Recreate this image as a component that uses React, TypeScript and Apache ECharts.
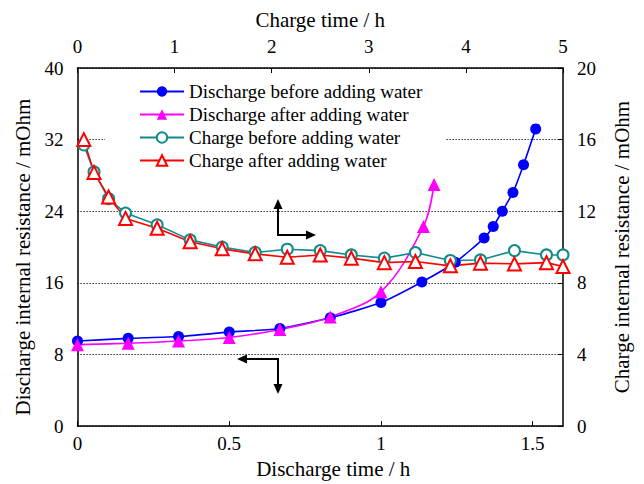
import React, { useEffect, useRef } from "react";
import * as echarts from "echarts";

const FONT = "Liberation Serif";

// Discharge (bottom axis: h, left axis: mOhm)
const dischargeBeforeTime = [0, 0.167, 0.333, 0.5, 0.667, 0.833, 1.0, 1.135, 1.245, 1.34, 1.37, 1.40, 1.435, 1.47, 1.51];
const dischargeBeforeRes = [9.5, 9.8, 10.0, 10.5, 10.9, 12.1, 13.8, 16.1, 18.3, 21.0, 22.3, 24.0, 26.1, 29.2, 33.2];
const dischargeAfterTime = [0, 0.167, 0.333, 0.5, 0.667, 0.833, 1.0, 1.14, 1.175];
const dischargeAfterRes = [9.1, 9.25, 9.5, 9.9, 10.8, 12.2, 15.0, 22.3, 27.0];

// Charge (top axis: h, right axis: mOhm)
const chargeTime = [0.065, 0.17, 0.32, 0.495, 0.82, 1.16, 1.49, 1.83, 2.16, 2.5, 2.82, 3.16, 3.48, 3.84, 4.15, 4.5, 4.83, 5.0];
const chargeBeforeRes = [15.7, 14.2, 12.7, 11.9, 11.24, 10.4, 10.0, 9.7, 9.88, 9.8, 9.56, 9.38, 9.69, 9.25, 9.28, 9.8, 9.56, 9.56];
const chargeAfterRes = [16.0, 14.17, 12.8, 11.6, 11.05, 10.3, 9.9, 9.62, 9.43, 9.56, 9.38, 9.13, 9.19, 8.95, 9.1, 9.06, 9.13, 8.91];

const seriesNames = [
  "Discharge before adding water",
  "Discharge after adding water",
  "Charge before adding water",
  "Charge after adding water",
];

const zip = (xs: number[], ys: number[]) => xs.map((x, i) => [x, ys[i]]);

export default function App() {
  const ref = useRef<HTMLDivElement>(null);
  useEffect(() => {
    document.body.style.margin = "0";
    const chart = echarts.init(ref.current!, undefined, { renderer: "svg" });
    const axisLine = { onZero: false, lineStyle: { color: "#000", width: 1.5 } };
    const label = { fontFamily: FONT, fontSize: 19, color: "#000" };
    const nameStyle = { fontFamily: FONT, fontSize: 21, color: "#000" };
    const black = { color: "#000" };
    const arrowStyle = { stroke: "#000", lineWidth: 2, fill: "none" };
    chart.setOption({
      animation: false,
      backgroundColor: "#fff",
      grid: { left: 77.5, right: 81, top: 68, bottom: 57 },
      legend: {
        orient: "vertical",
        left: 105,
        top: 76,
        padding: [6, 23, 6, 34],
        backgroundColor: "#fff",
        itemWidth: 44,
        itemHeight: 13,
        itemGap: 4,
        data: seriesNames,
        textStyle: { fontFamily: FONT, fontSize: 19, color: "#000", lineHeight: 19 },
      },
      xAxis: [
        {
          type: "value",
          position: "bottom",
          min: 0,
          max: 1.6,
          interval: 0.5,
          name: "Discharge time / h",
          nameLocation: "middle",
          nameGap: 31,
          nameTextStyle: { ...nameStyle, padding: [0, 0, 0, 26] },
          axisLine,
          axisTick: { inside: true, length: 5, lineStyle: black },
          axisLabel: { ...label, margin: 8, showMaxLabel: false },
          splitLine: { show: false },
        },
        {
          type: "value",
          position: "top",
          min: 0,
          max: 5,
          interval: 1,
          name: "Charge time / h",
          nameLocation: "middle",
          nameGap: 38,
          nameTextStyle: nameStyle,
          axisLine,
          axisTick: { inside: true, length: 5, lineStyle: black },
          axisLabel: { ...label, margin: 12 },
          splitLine: { show: false },
        },
      ],
      yAxis: [
        {
          type: "value",
          position: "left",
          min: 0,
          max: 40,
          interval: 8,
          name: "Discharge internal resistance / mOhm",
          nameLocation: "middle",
          nameGap: 43,
          nameTextStyle: { ...nameStyle, padding: [0, 20, 0, 0] },
          axisLine,
          axisTick: { show: false },
          axisLabel: { ...label, margin: 14 },
          splitLine: { show: true, lineStyle: { color: "#000", type: [1.2, 1.8], width: 1.2 } },
        },
        {
          type: "value",
          position: "right",
          min: 0,
          max: 20,
          interval: 4,
          name: "Charge internal resistance / mOhm",
          nameLocation: "middle",
          nameGap: 48,
          nameTextStyle: nameStyle,
          axisLine,
          axisTick: { inside: true, length: 5, lineStyle: black },
          axisLabel: { ...label, margin: 14 },
          splitLine: { show: false },
        },
      ],
      series: [
        {
          name: seriesNames[0],
          type: "line",
          xAxisIndex: 0,
          yAxisIndex: 0,
          data: zip(dischargeBeforeTime, dischargeBeforeRes),
          symbol: "circle",
          symbolSize: 11,
          smooth: 0.2,
          itemStyle: { color: "#0000ff" },
          lineStyle: { color: "#0000ff", width: 1.6 },
        },
        {
          name: seriesNames[1],
          type: "line",
          xAxisIndex: 0,
          yAxisIndex: 0,
          data: zip(dischargeAfterTime, dischargeAfterRes),
          symbol: "triangle",
          symbolSize: 13,
          smooth: 0.35,
          itemStyle: { color: "#ff00ff" },
          lineStyle: { color: "#ff00ff", width: 1.6 },
        },
        {
          name: seriesNames[2],
          type: "line",
          xAxisIndex: 1,
          yAxisIndex: 1,
          data: zip(chargeTime, chargeBeforeRes),
          symbol: "emptyCircle",
          symbolSize: 11,
          itemStyle: { color: "#138a8a", borderWidth: 1.5 },
          lineStyle: { color: "#138a8a", width: 1.6 },
        },
        {
          name: seriesNames[3],
          type: "line",
          xAxisIndex: 1,
          yAxisIndex: 1,
          data: zip(chargeTime, chargeAfterRes),
          symbol: "emptyTriangle",
          symbolSize: 13,
          itemStyle: { color: "#ff0000", borderWidth: 1.5 },
          lineStyle: { color: "#ff0000", width: 1.6 },
        },
      ],
      graphic: [
        { type: "polyline", z: 100, shape: { points: [[278, 206], [278, 235], [309, 235]] }, style: arrowStyle },
        { type: "polygon", z: 100, shape: { points: [[278, 199], [273.5, 209], [282.5, 209]] }, style: { fill: "#000" } },
        { type: "polygon", z: 100, shape: { points: [[316, 235], [306, 230.5], [306, 239.5]] }, style: { fill: "#000" } },
        { type: "polyline", z: 100, shape: { points: [[244, 359], [278, 359], [278, 387]] }, style: arrowStyle },
        { type: "polygon", z: 100, shape: { points: [[237, 359], [247, 354.5], [247, 363.5]] }, style: { fill: "#000" } },
        { type: "polygon", z: 100, shape: { points: [[278, 394], [273.5, 384], [282.5, 384]] }, style: { fill: "#000" } },
      ],
    });
    return () => chart.dispose();
  }, []);
  return <div ref={ref} style={{ width: 644, height: 484 }} />;
}
